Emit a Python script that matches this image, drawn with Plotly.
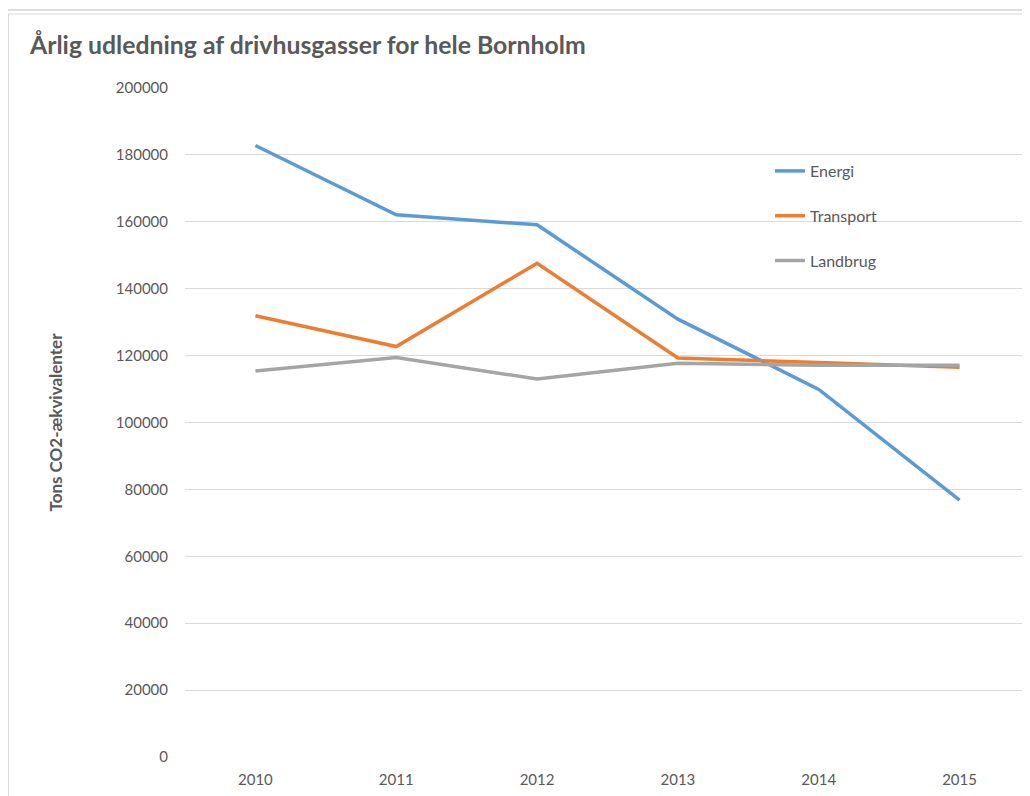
import plotly.graph_objects as go

years = [2010, 2011, 2012, 2013, 2014, 2015]
energi = [182800, 162100, 159100, 130900, 109900, 76800]
transport = [131900, 122700, 147600, 119300, 117900, 116500]
landbrug = [115400, 119400, 113000, 117700, 117100, 117100]
y_ticks = [0, 20000, 40000, 60000, 80000, 100000, 120000, 140000, 160000, 180000, 200000]

series = [
    ("Energi", energi, "#5B9BD5"),
    ("Transport", transport, "#ED7D31"),
    ("Landbrug", landbrug, "#A5A5A5"),
]

FONT = "Lato"
TXT = "#595959"

fig = go.Figure()
for name, vals, col in series:
    fig.add_trace(go.Scatter(
        x=years, y=vals, name=name, mode="lines",
        line=dict(color=col, width=3.5),
        legendgroup=name,
    ))

# page has an 8px body margin; figure sized to fill the rest of the window
W, H = 1022, 788
L, R, T, B = 177, 0, 80, 39
PW, PH = W - L - R, H - T - B

def px_x(x):  # figure px -> paper x
    return (x - L) / PW

def px_y(y):  # figure px -> paper y
    return 1 - (y - T) / PH

fig.update_layout(
    width=W, height=H,
    margin=dict(l=L, r=R, t=T, b=B, pad=0),
    paper_bgcolor="white", plot_bgcolor="white",
    font=dict(family=FONT, size=15, color=TXT),
    title=dict(
        text="<b>Årlig udledning af drivhusgasser for hele Bornholm</b>",
        x=22 / W, xanchor="left", xref="container",
        y=1 - 37 / H, yanchor="middle", yref="container",
        font=dict(family=FONT, size=24.8, color=TXT),
    ),
    xaxis=dict(
        range=[2009.5, 2015.5], tickmode="array", tickvals=years,
        ticktext=[str(y) for y in years],
        showgrid=False, zeroline=False, showline=False,
        ticks="", ticklabelstandoff=12,
        tickfont=dict(family=FONT, size=15, color=TXT),
        fixedrange=True,
    ),
    yaxis=dict(
        range=[0, 200000], tickmode="array", tickvals=y_ticks,
        ticktext=[str(v) for v in y_ticks],
        showgrid=True, gridcolor="#D9D9D9", gridwidth=1,
        zeroline=False, showline=False, ticks="", ticklabelstandoff=16,
        tickfont=dict(family=FONT, size=15, color=TXT),
        fixedrange=True,
    ),
    legend=dict(
        x=px_x(762), y=px_y(146),
        xanchor="left", yanchor="top",
        bgcolor="rgba(0,0,0,0)", tracegroupgap=21,
        font=dict(family=FONT, size=16, color=TXT),
    ),
    showlegend=True,
)

# y-axis title
fig.add_annotation(
    text="<b>Tons CO2-ækvivalenter</b>", textangle=-90,
    xref="paper", yref="paper",
    x=px_x(47), y=0.5, xanchor="center", yanchor="middle",
    showarrow=False, font=dict(family=FONT, size=17, color=TXT),
)

# spreadsheet background line and chart border
fig.add_shape(type="line", xref="paper", yref="paper",
              x0=px_x(0), x1=1, y0=px_y(2), y1=px_y(2),
              line=dict(color="#D4D4D4", width=1.5), layer="below")
fig.add_shape(type="line", xref="paper", yref="paper",
              x0=px_x(0), x1=1, y0=px_y(6), y1=px_y(6),
              line=dict(color="#D9D9D9", width=1), layer="below")
fig.add_shape(type="line", xref="paper", yref="paper",
              x0=px_x(0.5), x1=px_x(0.5), y0=px_y(H), y1=px_y(6),
              line=dict(color="#D9D9D9", width=1), layer="below")

fig.write_html("out.html")
